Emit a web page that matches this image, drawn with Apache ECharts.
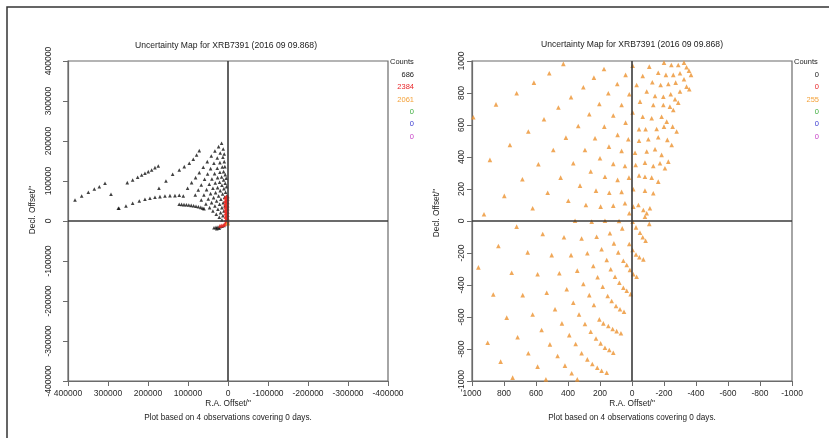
<!DOCTYPE html>
<html>
<head>
<meta charset="utf-8">
<script src="https://cdn.jsdelivr.net/npm/echarts@6/dist/echarts.min.js"></script>
<style>
  html, body { margin: 0; padding: 0; background: #fff; }
  #chart { width: 829px; height: 438px; }
</style>
</head>
<body>
<div id="chart"></div>
<script>
// titles and legend counts
var titleText = 'Uncertainty Map for XRB7391 (2016 09 09.868)';
var footText = 'Plot based on 4 observations covering 0 days.';
var countColors = ['#222222', '#e8262a', '#f4a23a', '#3fae3f', '#3b3bd0', '#c743c7'];
var leftCounts = ['686', '2384', '2061', '0', '0', '0'];
var rightCounts = ['0', '0', '255', '0', '0', '0'];

// left panel (offsets in arcsec)
var leftBlack = [
  [382500,52500],[365800,62500],[349200,71700],[334200,80000],[321700,85800],[307500,94200],[292500,66700],[274200,31700],
  [251800,95900],[238400,102600],[225900,109200],[215900,115100],[207600,119200],[199300,123400],[190900,127600],[182600,133400],[174300,137600],
  [272600,31800],[255100,37600],[238400,44300],[221800,50100],[207600,54300],[195100,56800],[182600,59300],[170100,60900],[157600,62600],[145100,63400],[132600,63400],[121800,64300],[111800,62600],
  [172600,81700],[155100,100100],[138400,116700],[121800,127600],[109300,135900],[96800,144200],[86800,154200],[78500,165100],[71800,175900],
  [122000,42000],[116000,41500],[110000,41000],[104000,40500],[98000,40000],[92000,39000],[86000,38000],[80000,37000],[74000,35500],[68000,34000],[63000,32000],[60000,31000],
  [101000,81700],[91000,95900],[81000,108400],[71800,120900],[61800,134200],[51800,148400],[41800,162500],[32700,175000],[23500,185900],[16000,194200],
  [81800,65100],[74300,77600],[66800,90100],[58500,104200],[51000,117600],[43500,130900],[35200,144200],[26800,157500],[19400,170000],[11900,180000],
  [66800,52600],[60200,65100],[53500,78400],[46800,91700],[40200,105100],[33500,118400],[26800,131700],[20200,145900],[12700,159200],[9400,167500],
  [55200,42600],[49300,55100],[43500,68400],[37700,81700],[31800,95100],[26000,108400],[20200,121700],[14300,135100],[9400,148400],
  [46000,33400],[41000,45900],[36000,58400],[31000,70900],[26000,83400],[21000,96800],[16000,110100],[11000,123400],[7900,135900],
  [37700,25100],[32700,37600],[28500,50100],[23500,62600],[19400,75900],[15200,89200],[11000,102600],[6900,115900],
  [29300,16800],[25200,29300],[21000,41800],[17700,54300],[13500,67600],[10200,80900],[6900,94200],[4400,106700],
  [21800,9300],[18500,20900],[15200,33400],[11900,45900],[8500,59200],[6000,71700],[3500,85900],
  [15200,2600],[12700,13400],[10200,25100],[7700,37600],[5200,50100],[2700,62600],
  [35000,-17000],[30000,-16000],[25000,-15000],[20000,-14000],[15000,-13000],[10000,-11000],[28000,-19000],[22000,-18000]
];
var leftRed = [
  [1000,62000],[3000,61000],[5000,60000],[7000,58000],[1000,55000],[3000,54000],[5000,52000],[7000,50000],
  [1000,47000],[3000,46000],[5000,44000],[7000,42000],[1000,39000],[3000,38000],[5000,36000],[6500,34000],
  [1000,31000],[3000,30000],[5000,28000],[6500,26000],[1000,23000],[3000,22000],[5000,20000],[6000,18000],
  [1000,15000],[3000,14000],[5000,12000],[6000,10000],[1000,7000],[3000,6000],[5000,4000],[5500,2000],
  [1000,0],[3000,-1000],[4500,-3000],[6000,-6000],[8000,-8000],[12000,-10000],[16000,-11000],[20000,-12000]
];
var leftOrange = [[500,-4000],[1500,-5000],[0,-6500]];

// right panel (offsets in arcsec)
var rightOrange = [
  [429,982],[175,950],[-4,971],[-108,965],[-200,990],[-246,975],[-289,975],[-325,990],[-341,961],[-356,940],[-369,913],
  [517,923],[613,865],[721,798],[850,729],[992,648],
  [238,896],[40,913],[-67,906],[-164,927],[-212,913],[-258,913],[-300,923],[-325,886],[-341,840],[-358,823],
  [304,836],[92,856],[-29,850],[-127,867],[-179,850],[-227,856],[-273,865],[-300,809],
  [381,773],[148,798],[17,792],[-92,809],[-144,781],[-196,777],[-242,792],[-269,761],[-289,740],
  [460,709],[204,731],[65,725],[-50,746],[-133,725],[-196,725],[-237,715],[-258,694],
  [550,636],[267,667],[117,659],[-4,679],[-67,652],[-123,642],[-185,652],[-217,621],[-254,590],
  [648,559],[336,594],[173,590],[40,615],[-44,573],[-85,573],[-154,575],[-200,590],[-279,559],
  [763,475],[413,521],[231,517],[90,538],[23,511],[-44,502],[-102,511],[-164,523],[-221,507],[-248,475],
  [888,382],[492,444],[294,444],[144,465],[65,438],[-19,427],[-92,434],[-144,448],[-185,413],[-227,371],
  [585,355],[367,361],[200,392],[117,357],[44,344],[-23,350],[-81,365],[-133,344],[-175,361],[-206,330],
  [685,261],[446,271],[258,309],[169,277],[90,257],[19,271],[-44,284],[-81,277],[-123,271],[-164,246],
  [798,157],[527,177],[325,221],[225,190],[142,177],[65,182],[-8,198],[-81,190],[-133,173],
  [925,42],[621,80],[398,127],[288,100],[196,90],[117,96],[44,111],[-8,90],[-40,100],[-71,69],[-92,48],[-112,80],
  [721,-35],[356,2],[252,-4],[169,2],[17,48],[-81,27],[-108,-18],[81,0],[-4,-4],
  [558,-81],[425,-102],[315,-109],[221,-98],[138,-77],[61,-46],[-25,-40],[-50,-73],[-67,-102],[-85,-123],
  [835,-156],[652,-196],[502,-213],[381,-213],[279,-202],[190,-177],[113,-140],[17,-144],[-4,-181],[-25,-209],[-46,-227],[-71,-240],
  [960,-290],[752,-323],[590,-333],[454,-327],[342,-310],[242,-281],[158,-244],[86,-196],[54,-248],[33,-275],[13,-306],[-8,-333],[-29,-348],
  [867,-459],[683,-463],[533,-448],[408,-427],[304,-394],[215,-352],[133,-302],[106,-348],[79,-386],[54,-417],[33,-436],[8,-457],
  [783,-604],[621,-584],[481,-552],[367,-511],[267,-463],[183,-411],[152,-469],[127,-500],[100,-531],[75,-552],[50,-567],
  [902,-761],[715,-727],[565,-681],[438,-640],[331,-584],[238,-525],[204,-615],[179,-640],[148,-656],[121,-675],[96,-688],[69,-702],
  [821,-879],[648,-827],[513,-771],[392,-713],[294,-644],[258,-692],[225,-734],[196,-765],[169,-792],[142,-806],[117,-823],
  [746,-979],[590,-910],[465,-844],[352,-769],[377,-952],[342,-990],[279,-865],[248,-894],[217,-917],[190,-936],[158,-948],
  [538,-990],[419,-904],[315,-827]
];

var FONT = '"Liberation Sans", Arial, sans-serif';
var axisGray = '#6b6b6b';

function xAxisCfg(grid, lim, step) {
  return {
    type: 'value', gridIndex: grid, min: -lim, max: lim, interval: step, inverse: true,
    axisLine: { show: true, onZero: false, lineStyle: { color: axisGray, width: 1.2 } },
    axisTick: { show: true, length: 5, lineStyle: { color: axisGray } },
    axisLabel: { fontSize: 8.5, color: '#2a2a2a', fontFamily: FONT, margin: 8, formatter: function (v) { return String(v); } },
    splitLine: { show: false }
  };
}
function yAxisCfg(grid, lim, step, margin) {
  return {
    type: 'value', gridIndex: grid, min: -lim, max: lim, interval: step,
    axisLine: { show: true, onZero: false, lineStyle: { color: axisGray, width: 1.2 } },
    axisTick: { show: true, length: 5, lineStyle: { color: axisGray } },
    axisLabel: { fontSize: 8.5, color: '#2a2a2a', fontFamily: FONT, rotate: 90, margin: margin, formatter: function (v) { return String(v); } },
    splitLine: { show: false }
  };
}
function zeroLines() {
  return {
    silent: true, symbol: 'none', label: { show: false },
    lineStyle: { color: '#3a3a3a', width: 1.6, type: 'solid' },
    data: [{ xAxis: 0 }, { yAxis: 0 }]
  };
}
function scatter(x, data, color, size, withZero) {
  var s = {
    type: 'scatter', xAxisIndex: x, yAxisIndex: x, data: data,
    symbol: 'triangle', symbolSize: size, itemStyle: { color: color }, silent: true
  };
  if (withZero) s.markLine = zeroLines();
  return s;
}

function legendTexts(xLeft, xRight, counts) {
  var out = [{ type: 'text', left: xLeft, top: 58, style: { text: 'Counts', fill: '#222', font: '7.5px ' + FONT } }];
  counts.forEach(function (c, i) {
    out.push({ type: 'text', x: xRight, y: 75 + i * 12.3,
      style: { text: c, fill: countColors[i], font: '7.5px ' + FONT, textAlign: 'right', textVerticalAlign: 'middle' } });
  });
  return out;
}
function centered(x, y, text, size, rot) {
  return { type: 'text', x: x, y: y, rotation: rot || 0,
    style: { text: text, fill: '#222', font: size + 'px ' + FONT, textAlign: 'center', textVerticalAlign: 'middle' } };
}

var chart = echarts.init(document.getElementById('chart'), null, { renderer: 'canvas' });
chart.setOption({
  animation: false,
  backgroundColor: '#ffffff',
  grid: [
    { left: 68, top: 61, width: 320, height: 320, show: true, borderColor: axisGray, borderWidth: 1.2, backgroundColor: 'transparent' },
    { left: 472, top: 61, width: 320, height: 320, show: true, borderColor: axisGray, borderWidth: 1.2, backgroundColor: 'transparent' }
  ],
  xAxis: [xAxisCfg(0, 400000, 100000), xAxisCfg(1, 1000, 200)],
  yAxis: [yAxisCfg(0, 400000, 100000, 15), yAxisCfg(1, 1000, 200, 6)],
  series: [
    scatter(0, leftBlack, '#111111', 3.6, true),
    scatter(0, leftRed, '#ee2a24', 4, false),
    scatter(0, leftOrange, '#f39a2c', 4, false),
    scatter(1, rightOrange, '#ec922f', 4.6, true)
  ],
  graphic: [
    { type: 'rect', shape: { x: 7, y: 7, width: 1000, height: 1000 }, style: { fill: 'none', stroke: '#333', lineWidth: 1.5 }, silent: true },
    centered(226, 46, titleText, 8.6),
    centered(632, 45, titleText, 8.6),
    centered(228, 404, 'R.A. Offset/"', 8.3),
    centered(632, 404, 'R.A. Offset/"', 8.3),
    centered(228, 418, footText, 8.2),
    centered(632, 418, footText, 8.2),
    centered(33, 210, 'Decl. Offset/"', 8.3, Math.PI / 2),
    centered(437, 213, 'Decl. Offset/"', 8.3, Math.PI / 2)
  ].concat(legendTexts(390, 414, leftCounts)).concat(legendTexts(794, 819, rightCounts))
});
</script>
</body>
</html>
